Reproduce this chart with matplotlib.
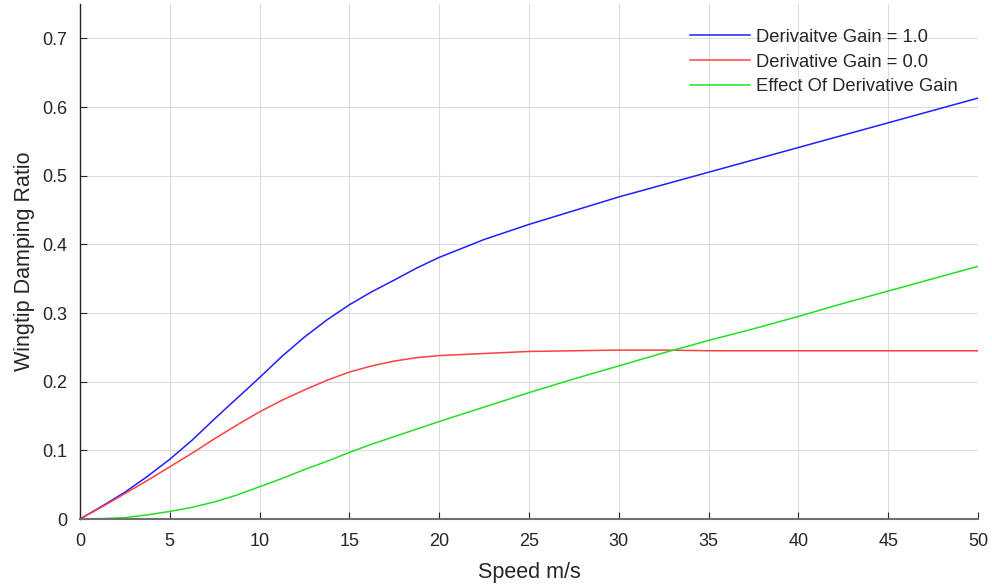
import matplotlib
matplotlib.use("Agg")
import matplotlib.pyplot as plt

speed = [0, 1.25, 2.5, 3.75, 5, 6.25, 7.5, 8.75, 10, 11.25, 12.5, 13.75, 15, 16.25, 17.5, 18.75, 20,
         22.5, 25, 27.5, 30, 32.5, 35, 37.5, 40, 42.5, 45, 47.5, 50]
gain_one = [0, 0.019, 0.039, 0.062, 0.087, 0.115, 0.146, 0.176, 0.206, 0.237, 0.265, 0.290, 0.312, 0.331, 0.348, 0.3655, 0.381,
            0.407, 0.429, 0.449, 0.469, 0.487, 0.505, 0.523, 0.541, 0.559, 0.577, 0.595, 0.613]
gain_zero = [0, 0.018, 0.037, 0.056, 0.076, 0.096, 0.117, 0.137, 0.156, 0.173, 0.188, 0.202, 0.214, 0.223, 0.230, 0.235, 0.238,
             0.241, 0.244, 0.245, 0.246, 0.246, 0.245, 0.245, 0.245, 0.245, 0.245, 0.245, 0.245]
effect = [0, 0.0005, 0.002, 0.006, 0.011, 0.017, 0.025, 0.035, 0.047, 0.059, 0.072, 0.084, 0.097, 0.109, 0.120, 0.131, 0.142,
          0.163, 0.184, 0.204, 0.223, 0.242, 0.260, 0.277, 0.295, 0.314, 0.332, 0.350, 0.368]
labels = ["Derivaitve Gain = 1.0", "Derivative Gain = 0.0", "Effect Of Derivative Gain"]
xticks = [0, 5, 10, 15, 20, 25, 30, 35, 40, 45, 50]
yticks = [0, 0.1, 0.2, 0.3, 0.4, 0.5, 0.6, 0.7]
ytick_labels = ["0", "0.1", "0.2", "0.3", "0.4", "0.5", "0.6", "0.7"]

plt.rcParams['font.family'] = ['Liberation Sans', 'DejaVu Sans']
fig = plt.figure(figsize=(9.92, 5.88), dpi=100)
W, H = 992, 588
ax = fig.add_axes([80 / W, (H - 519) / H, (978 - 80) / W, (519 - 4) / H])

ax.plot(speed, gain_one, color='#1f1fff', lw=1.1, label=labels[0])
ax.plot(speed, gain_zero, color='#ff4040', lw=1.1, label=labels[1])
ax.plot(speed, effect, color='#22e022', lw=1.1, label=labels[2])

ax.set_xlim(0, 50)
ax.set_ylim(0, 0.75)
ax.set_xticks(xticks)
ax.set_yticks(yticks)
ax.set_yticklabels(ytick_labels)
ax.grid(True, color='#dcdcdc', lw=0.8)
ax.set_axisbelow(True)

for s in ['top', 'right']:
    ax.spines[s].set_visible(False)
ax.spines['left'].set_color('#262626')
ax.spines['bottom'].set_color('#707070')
ax.spines['bottom'].set_linewidth(1.5)
ax.spines['left'].set_linewidth(1.0)

ax.tick_params(axis='both', direction='in', length=5, labelsize=13, colors='#262626', labelcolor='#262626')
ax.tick_params(axis='x', pad=10)
ax.tick_params(axis='y', pad=9)

ax.set_xlabel("Speed m/s", fontsize=15.5, color='#262626', labelpad=9)
ax.set_ylabel("Wingtip Damping Ratio", fontsize=15.5, color='#262626', labelpad=5)

leg = ax.legend(loc='upper right', bbox_to_anchor=(0.977, 0.952), frameon=False, fontsize=13.2,
                handlelength=3.3, handletextpad=0.28, labelspacing=0.43, borderaxespad=0, borderpad=0)
for t in leg.get_texts():
    t.set_color('#262626')

fig.savefig("out.png", dpi=100)
